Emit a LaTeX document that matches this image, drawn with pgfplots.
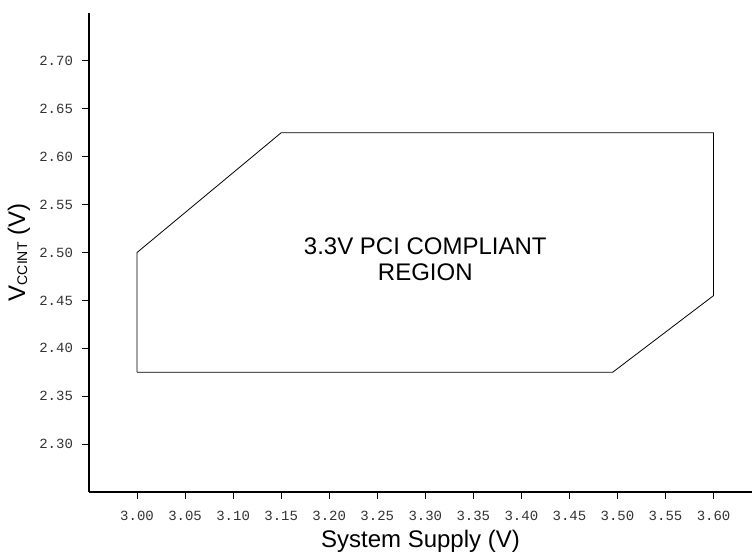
\documentclass[border=0pt]{standalone}
\usepackage{fontspec}
\setmainfont{Liberation Sans}
\newfontfamily\monofont{Liberation Mono}
\usepackage{pgfplots}
\pgfplotsset{compat=1.18}
\begin{document}
\begin{tikzpicture}
\begin{axis}[
  name=ax,
  scale only axis,
  width=497.25pt, height=359.25pt,
  xmin=2.95, xmax=3.64,
  ymin=2.25, ymax=2.75,
  axis lines=left,
  axis line style={-, line width=0.8pt},
  tick align=outside,
  major tick length=5pt,
  tick style={black, line width=0.8pt},
  xtick={3.00,3.05,...,3.61},
  ytick={2.30,2.35,...,2.71},
  /pgf/number format/.cd, fixed, fixed zerofill, precision=2, assume math mode=true,
  /pgfplots/.cd,
  ticklabel style={font=\monofont\fontsize{10.5}{12}\selectfont, text=black!80},
  xticklabel style={yshift=-6pt},
  yticklabel style={xshift=-3.5pt},
  xlabel={System Supply (V)},
  ylabel={V\raisebox{-1.5pt}{\fontsize{10.5}{10}\selectfont CCINT} (V)},
  label style={font=\fontsize{18}{20}\selectfont},
  clip=false,
]
\addplot[black, line width=0.6pt] coordinates {
  (3.00,2.375) (3.00,2.50) (3.15,2.625) (3.60,2.625) (3.60,2.455) (3.495,2.375) (3.00,2.375)
};
\node[align=center, font=\fontsize{18}{20}\selectfont] at (axis cs:3.30,2.493) {3.3V PCI COMPLIANT\\REGION};
\end{axis}
\pgfresetboundingbox
\path ([shift={(-66.75pt,-47.25pt)}]ax.south west) rectangle ([shift={(0pt,9.75pt)}]ax.north east);
\end{tikzpicture}
\end{document}
